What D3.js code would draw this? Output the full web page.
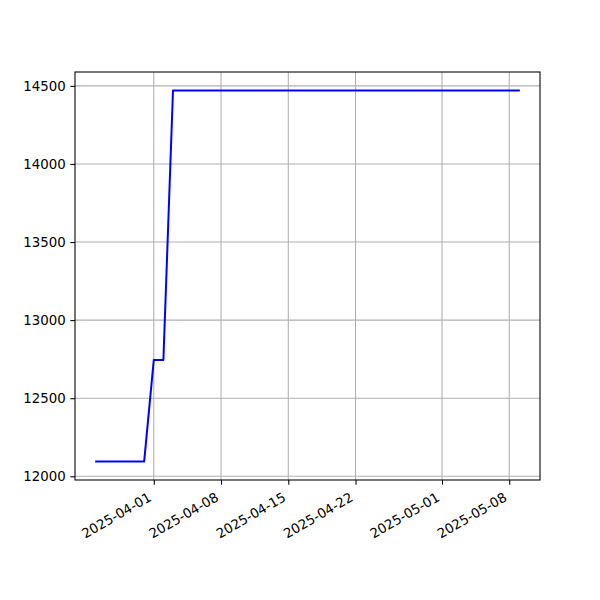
<!DOCTYPE html>
<html><head><meta charset="utf-8">
<script src="https://cdn.jsdelivr.net/npm/d3@7"></script>
<style>body{margin:0;background:#fff}svg{display:block}text{font-family:"DejaVu Sans",sans-serif;font-size:13.33px;fill:#000}</style>
</head><body>
<svg id="c" width="600" height="600"></svg>
<script>
const dates = ["2025-03-26","2025-03-31","2025-04-01","2025-04-02","2025-04-03","2025-05-09"];
const values = [12095, 12095, 12745, 12745, 14470, 14470];
const xTickLabels = ["2025-04-01","2025-04-08","2025-04-15","2025-04-22","2025-05-01","2025-05-08"];
const yTickLabels = [12000, 12500, 13000, 13500, 14000, 14500];

const parse = d3.utcParse("%Y-%m-%d");
const data = dates.map((d,i)=>({d:parse(d), v:values[i]}));
const L=75, R=540, T=72, B=480;
const svg = d3.select("#c");

const xExt = d3.extent(data, d=>d.d);
const xs = xExt[1]-xExt[0];
const x = d3.scaleUtc().domain([new Date(+xExt[0]-xs*0.05), new Date(+xExt[1]+xs*0.05)]).range([L,R]);
const yExt = d3.extent(values);
const ys = yExt[1]-yExt[0];
const y = d3.scaleLinear().domain([yExt[0]-ys*0.05, yExt[1]+ys*0.05]).range([B,T]);

const xt = xTickLabels.map(parse);
// grid
const g = svg.append("g");
g.selectAll(".gx").data(xt).enter().append("line")
  .attr("x1",d=>x(d)).attr("x2",d=>x(d)).attr("y1",T).attr("y2",B)
  .attr("stroke","#b0b0b0").attr("stroke-width",1.07);
g.selectAll(".gy").data(yTickLabels).enter().append("line")
  .attr("x1",L).attr("x2",R).attr("y1",d=>y(d)).attr("y2",d=>y(d))
  .attr("stroke","#b0b0b0").attr("stroke-width",1.07);

// line
svg.append("path").datum(data)
  .attr("d", d3.line().x(d=>x(d.d)).y(d=>y(d.v)))
  .attr("fill","none").attr("stroke","#0000ff").attr("stroke-width",2)
  .attr("stroke-linejoin","round").attr("stroke-linecap","square");

// axes
const xa = svg.append("g").attr("transform",`translate(0,${B})`)
  .call(d3.axisBottom(x).tickValues(xt).tickSize(4.67).tickFormat(""));
xa.select(".domain").remove();
xa.selectAll("line").attr("stroke","#000").attr("stroke-width",1.07);
svg.selectAll(".xl").data(xt).enter().append("text")
  .attr("text-anchor","end")
  .attr("transform",d=>`translate(${x(d)-1.5},${B+20}) rotate(-30)`)
  .text(d=>d3.utcFormat("%Y-%m-%d")(d));

const ya = svg.append("g").attr("transform",`translate(${L},0)`)
  .call(d3.axisLeft(y).tickValues(yTickLabels).tickSize(4.67).tickPadding(4.67).tickFormat(d3.format("d")));
ya.select(".domain").remove();
ya.selectAll("line").attr("stroke","#000").attr("stroke-width",1.07);
ya.selectAll("text").style("font-size","13.33px").style("font-family","DejaVu Sans").attr("fill","#000");

svg.append("rect").attr("x",L).attr("y",T).attr("width",R-L).attr("height",B-T)
  .attr("fill","none").attr("stroke","#000").attr("stroke-width",1.07);
</script>
</body></html>
